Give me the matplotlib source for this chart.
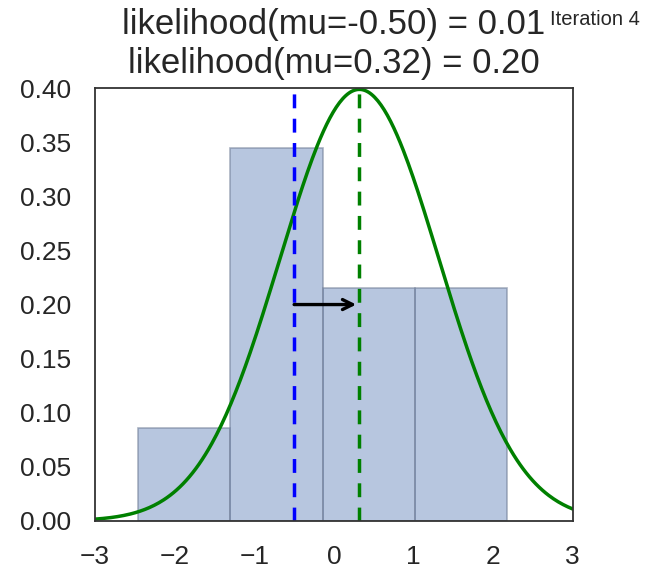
import matplotlib.pyplot as plt
import numpy as np
import seaborn as sns

sns.set_style('white')
plt.rcParams['font.family'] = ['Liberation Sans', 'DejaVu Sans']

# histogram of observed data (counts per bin)
bin_edges = [-2.46, -1.30, -0.14, 1.02, 2.18]
bin_counts = [2, 8, 5, 5]

mu_current = -0.50
mu_proposal = 0.32
sigma = 1.0
like_current = 0.01
like_proposal = 0.20
iteration = 4


def norm_pdf(x, mu, sd):
    return np.exp(-0.5 * ((x - mu) / sd) ** 2) / (sd * np.sqrt(2 * np.pi))


fig = plt.figure(figsize=(6.56, 5.73), dpi=100)
ax = fig.add_axes([0.145, 0.091, 0.728, 0.755])

ax.hist(bin_edges[:-1], bins=bin_edges, weights=bin_counts, density=True,
        facecolor=(0.298, 0.447, 0.690, 0.4), edgecolor=(0.45, 0.5, 0.6, 0.6),
        linewidth=1.2)

x = np.linspace(-3, 3, 300)
ax.plot(x, norm_pdf(x, mu_proposal, sigma), color='g', lw=2.5)
ax.axvline(mu_current, color='b', linestyle='--', lw=2.5, dashes=(4, 3))
ax.axvline(mu_proposal, color='g', linestyle='--', lw=2.5, dashes=(4, 3))
ax.annotate('', xy=(mu_proposal - 0.04, 0.2), xytext=(mu_current, 0.2),
            arrowprops=dict(arrowstyle='->', lw=2.4, color='k',
                            mutation_scale=18, shrinkA=0, shrinkB=0))

ax.set_xlim(-3, 3)
ax.set_ylim(0, 0.4)
ax.set_yticks(np.arange(0, 0.41, 0.05))
ax.tick_params(labelsize=19, pad=14, colors='.15')
for s in ax.spines.values():
    s.set_color('#333333')
    s.set_linewidth(1.3)

ax.set_title('likelihood(mu=%.2f) = %.2f\nlikelihood(mu=%.2f) = %.2f'
             % (mu_current, like_current, mu_proposal, like_proposal),
             fontsize=25, linespacing=1.22, pad=11, color='.15')
fig.text(0.838, 0.983, 'Iteration %i' % iteration, fontsize=14.5, color='.15',
         va='top')

fig.savefig('out.png', dpi=100)
